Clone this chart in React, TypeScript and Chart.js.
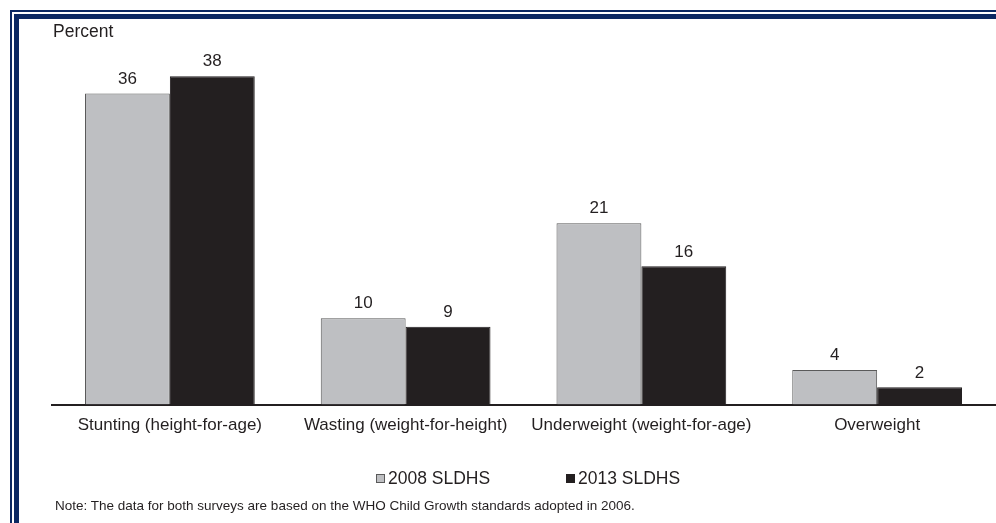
import React, { useEffect, useRef } from "react";
import { Chart, registerables } from "chart.js";

Chart.register(...registerables);

const categories = [
  "Stunting (height-for-age)",
  "Wasting (weight-for-height)",
  "Underweight (weight-for-age)",
  "Overweight",
];
const series2008 = [36, 10, 21, 4];
const series2013 = [38, 9, 16, 2];
const seriesNames = ["2008 SLDHS", "2013 SLDHS"];
const yTitle = "Percent";
const noteText =
  "Note: The data for both surveys are based on the WHO Child Growth standards adopted in 2006.";

const GRAY = "#BEBFC2";
const BLACK = "#231F20";
const NAVY = "#0B2862";
const FONT = "'Liberation Sans', Arial, sans-serif";
const FS = 17.5;
const TICK_FS = 17;

const valueLabels = {
  id: "valueLabels",
  afterDatasetsDraw(chart: any) {
    const ctx = chart.ctx;
    ctx.save();
    ctx.font = `${TICK_FS}px ${FONT}`;
    ctx.fillStyle = BLACK;
    ctx.textAlign = "center";
    ctx.textBaseline = "bottom";
    chart.data.datasets.forEach((ds: any, di: number) => {
      const meta = chart.getDatasetMeta(di);
      meta.data.forEach((bar: any, i: number) => {
        ctx.fillText(String(ds.data[i]), bar.x, bar.y - 6);
      });
    });
    ctx.restore();
  },
};

export default function App() {
  const ref = useRef<HTMLCanvasElement>(null);
  useEffect(() => {
    const chart = new Chart(ref.current!, {
      type: "bar",
      data: {
        labels: categories,
        datasets: [
          {
            label: seriesNames[0],
            data: series2008,
            backgroundColor: GRAY,
            borderColor: "#5a5a5a",
            borderWidth: 1,
            categoryPercentage: 0.72,
            barPercentage: 1,
          },
          {
            label: seriesNames[1],
            data: series2013,
            backgroundColor: BLACK,
            borderColor: BLACK,
            borderWidth: 1,
            categoryPercentage: 0.72,
            barPercentage: 1,
          },
        ],
      },
      options: {
        animation: false,
        responsive: false,
        maintainAspectRatio: false,
        layout: { padding: { left: 52, right: 1, top: 59, bottom: 76 } },
        plugins: { legend: { display: false }, tooltip: { enabled: false } },
        scales: {
          x: {
            grid: { display: false, drawTicks: false },
            border: { display: true, color: BLACK, width: 2 },
            ticks: {
              color: BLACK,
              font: { family: FONT, size: TICK_FS },
              padding: 11,
              maxRotation: 0,
              autoSkip: false,
            },
          },
          y: { display: false, min: 0, max: 40 },
        },
      },
      plugins: [valueLabels],
    });
    return () => chart.destroy();
  }, []);

  const text: React.CSSProperties = {
    position: "absolute",
    fontFamily: FONT,
    color: BLACK,
    whiteSpace: "nowrap",
    lineHeight: 1,
  };

  return (
    <div style={{ position: "fixed", left: 0, top: 0, width: 996, height: 523, background: "#fff", overflow: "hidden" }}>
      <div style={{ position: "absolute", left: 10, top: 10, right: 0, height: 2, background: NAVY }} />
      <div style={{ position: "absolute", left: 10, top: 10, bottom: 0, width: 2, background: NAVY }} />
      <div style={{ position: "absolute", left: 14, top: 14, right: 0, height: 5, background: NAVY }} />
      <div style={{ position: "absolute", left: 14, top: 14, bottom: 0, width: 5, background: NAVY }} />
      <canvas ref={ref} width={996} height={523} style={{ position: "absolute", left: 0, top: 0 }} />
      <div style={{ ...text, left: 53, top: 23, fontSize: FS }}>{yTitle}</div>
      <div style={{ position: "absolute", left: 376, top: 474, width: 7, height: 7, background: GRAY, border: "1px solid #5a5a5a" }} />
      <div style={{ ...text, left: 388, top: 470, fontSize: FS }}>{seriesNames[0]}</div>
      <div style={{ position: "absolute", left: 566, top: 474, width: 9, height: 9, background: BLACK }} />
      <div style={{ ...text, left: 578, top: 470, fontSize: FS }}>{seriesNames[1]}</div>
      <div style={{ ...text, left: 55, top: 499, fontSize: 13.5 }}>{noteText}</div>
    </div>
  );
}
